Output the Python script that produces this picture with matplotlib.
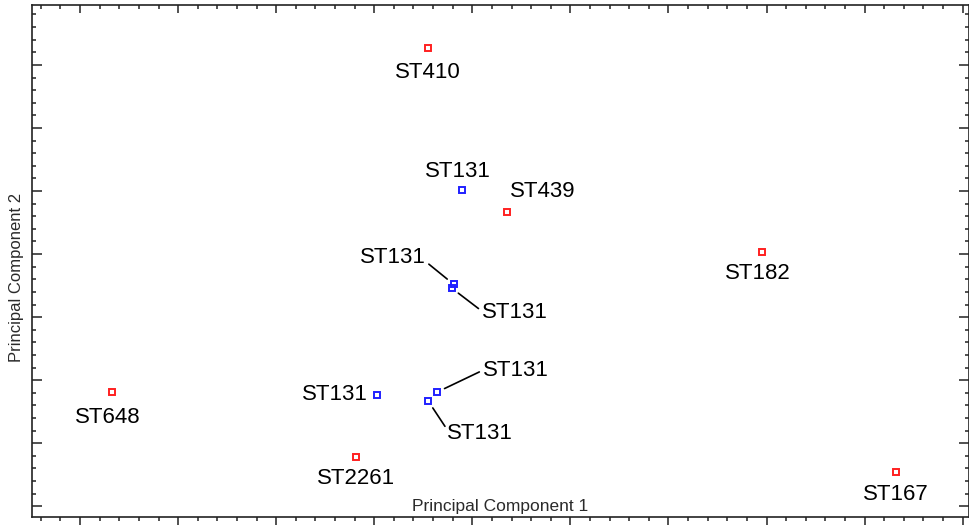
import numpy as np
import matplotlib.pyplot as plt
from matplotlib.ticker import MultipleLocator, NullFormatter

plt.rcParams['font.family'] = ['Liberation Sans', 'DejaVu Sans']

# PCA scores
names = ["ST410", "ST131", "ST439", "ST182", "ST131", "ST131", "ST648",
         "ST131", "ST131", "ST131", "ST2261", "ST167"]
pc1 = [-0.45, -0.11, 0.35, 2.95, -0.19, -0.21, -3.67, -0.97, -0.36, -0.45, -1.19, 4.32]
pc2 = [4.27, 2.02, 1.67, 1.03, 0.52, 0.46, -1.19, -1.24, -1.19, -1.33, -2.22, -2.46]
group = ["other", "ST131", "other", "other", "ST131", "ST131", "other",
         "ST131", "ST131", "ST131", "other", "other"]

# label offsets (pixels) and where a leader line leaves the label (None = no line)
offsets = [(0, -25), (-4, 18), (36, 20), (-4, -21), (-61, 27), (63, -24),
           (-5, -25), (-42, 1), (79, 22), (52, -33), (0, -21), (0, -22)]
leader = [None, None, None, None, (1.0, 0.3), (0.0, 0.55),
          None, None, (0.0, 0.5), (0.0, 0.7), None, None]

colors = {"ST131": "#2020ff", "other": "#ff2020"}

fig = plt.figure(figsize=(9.69, 5.25), dpi=100)
ax = fig.add_axes([32 / 969, 8 / 525, 937 / 969 - 0.0005, 512 / 525])

for g in ["other", "ST131"]:
    xs = [x for x, gg in zip(pc1, group) if gg == g]
    ys = [y for y, gg in zip(pc2, group) if gg == g]
    ax.plot(xs, ys, "s", ms=5, mfc="none", mec=colors[g], mew=1.4, zorder=3)

for n, x, y, off, ld in zip(names, pc1, pc2, offsets, leader):
    kw = {}
    if ld is not None:
        kw["arrowprops"] = dict(arrowstyle="-", color="black", lw=1.2,
                                relpos=ld, patchA=None, shrinkA=3, shrinkB=6)
    ax.annotate(n, (x, y), xytext=off, textcoords="offset pixels",
                ha="center", va="center", fontsize=16, color="black", **kw)

ax.set_xlim(-4.49, 5.06)
ax.set_ylim(-3.17, 4.95)

ax.xaxis.set_major_locator(MultipleLocator(1))
ax.xaxis.set_minor_locator(MultipleLocator(0.2))
ax.yaxis.set_major_locator(MultipleLocator(1))
ax.yaxis.set_minor_locator(MultipleLocator(0.2))
ax.xaxis.set_major_formatter(NullFormatter())
ax.yaxis.set_major_formatter(NullFormatter())

for s in ax.spines.values():
    s.set_linewidth(1.2)
    s.set_color("#222222")

ax.tick_params(axis="x", which="both", bottom=True, top=True, direction="out",
               color="#222222", width=1.1)
ax.tick_params(axis="x", which="major", length=6)
ax.tick_params(axis="x", which="minor", length=3)
ax.tick_params(axis="y", which="both", left=True, right=True, direction="in",
               color="#222222", width=1.1)
ax.tick_params(axis="y", which="major", length=7)
ax.tick_params(axis="y", which="minor", length=3)

# top ticks point inward, bottom outward
for t in ax.xaxis.get_major_ticks() + ax.xaxis.get_minor_ticks():
    t.tick2line.set_marker(3)

ax.text(0.5, 0.005, "Principal Component 1", transform=ax.transAxes,
        ha="center", va="bottom", fontsize=12.5, color="#2a2a2a")
fig.text(17 / 969, 1 - 277 / 525, "Principal Component 2", rotation=90,
         ha="center", va="center", fontsize=12, color="#2a2a2a")

fig.savefig("out.png", dpi=100)
